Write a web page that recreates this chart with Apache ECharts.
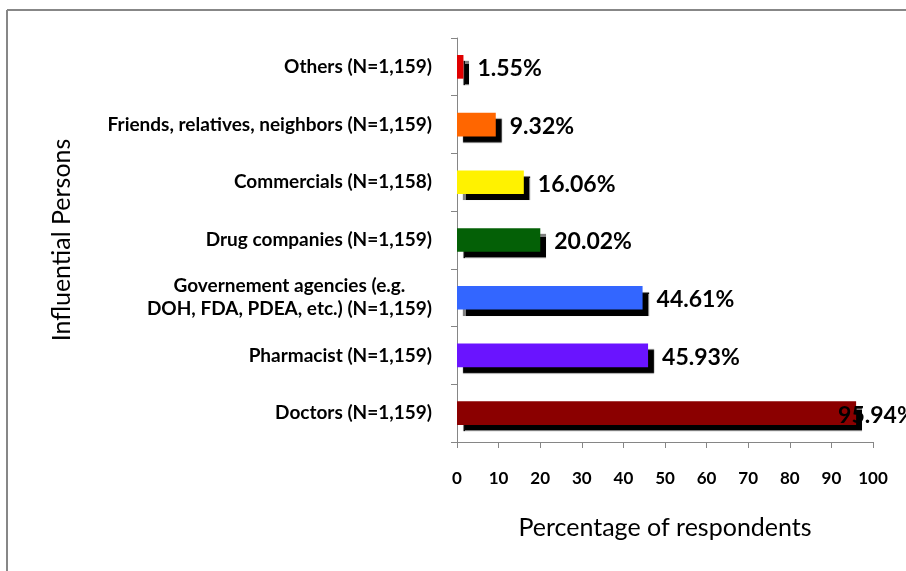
<!DOCTYPE html>
<html>
<head>
<meta charset="utf-8">
<script src="https://cdn.jsdelivr.net/npm/echarts@6/dist/echarts.min.js"></script>
<style>
html,body{margin:0;padding:0;background:#fff;}
#chart{width:906px;height:571px;}
</style>
</head>
<body>
<div id="chart"></div>
<script>
var categories = [
  'Doctors (N=1,159)',
  'Pharmacist (N=1,159)',
  'Governement agencies (e.g.\nDOH, FDA, PDEA, etc.) (N=1,159)',
  'Drug companies (N=1,159)',
  'Commercials (N=1,158)',
  'Friends, relatives, neighbors (N=1,159)',
  'Others (N=1,159)'
];
var values = [95.94, 45.93, 44.61, 20.02, 16.06, 9.32, 1.55];
var barColors = ['#8b0000', '#6a14ff', '#3366ff', '#046006', '#fff200', '#ff6600', '#e00000'];
var xTicks = [0, 10, 20, 30, 40, 50, 60, 70, 80, 90, 100];

var FONT = 'Lato, "Open Sans", sans-serif';

var chart = echarts.init(document.getElementById('chart'), null, {renderer: 'canvas'});

var seriesData = values.map(function (v, i) {
  var item = {value: v, itemStyle: {color: barColors[i]}};
  if (i === 0) {
    item.label = {distance: -18};
  }
  return item;
});

chart.setOption({
  animation: false,
  backgroundColor: '#ffffff',
  graphic: [
    {type: 'line', shape: {x1: 7, y1: 10, x2: 906, y2: 10}, style: {stroke: '#878787', lineWidth: 2}, z: 100},
    {type: 'line', shape: {x1: 7, y1: 10, x2: 7, y2: 571}, style: {stroke: '#878787', lineWidth: 2}, z: 100}
  ],
  grid: {left: 457, right: 33, top: 38, bottom: 129, containLabel: false},
  xAxis: {
    type: 'value',
    min: xTicks[0],
    max: xTicks[xTicks.length - 1],
    interval: 10,
    name: 'Percentage of respondents',
    nameLocation: 'middle',
    nameGap: 73,
    nameTextStyle: {fontFamily: FONT, fontSize: 25, color: '#000'},
    axisLine: {show: true, lineStyle: {color: '#868686', width: 1}},
    axisTick: {show: true, length: 6, lineStyle: {color: '#868686'}},
    splitLine: {show: false},
    axisLabel: {fontFamily: FONT, fontWeight: 'bold', fontSize: 17, color: '#000', margin: 28}
  },
  yAxis: {
    type: 'category',
    data: categories,
    name: 'Influential Persons',
    nameLocation: 'middle',
    nameGap: 383,
    nameRotate: 90,
    nameTextStyle: {fontFamily: FONT, fontSize: 25, color: '#000'},
    axisLine: {show: true, lineStyle: {color: '#868686', width: 1}},
    axisTick: {show: true, length: 6, lineStyle: {color: '#868686'}},
    splitLine: {show: false},
    axisLabel: {
      margin: 25,
      align: 'right',
      formatter: function (s) {
        return s.split('\n').map(function (l) { return '{c|' + l + '}'; }).join('\n');
      },
      rich: {
        c: {fontFamily: FONT, fontWeight: 'bold', fontSize: 19, color: '#000', align: 'center', lineHeight: 23}
      }
    }
  },
  series: [{
    type: 'bar',
    data: seriesData,
    barWidth: '41%',
    itemStyle: {shadowColor: '#000', shadowBlur: 1, shadowOffsetX: 6, shadowOffsetY: 6},
    label: {
      show: true,
      position: 'right',
      distance: 14,
      offset: [0, 2],
      fontFamily: FONT,
      fontWeight: 'bold',
      fontSize: 23,
      color: '#000',
      formatter: function (p) { return p.value.toFixed(2) + '%'; }
    }
  }]
});
</script>
</body>
</html>
